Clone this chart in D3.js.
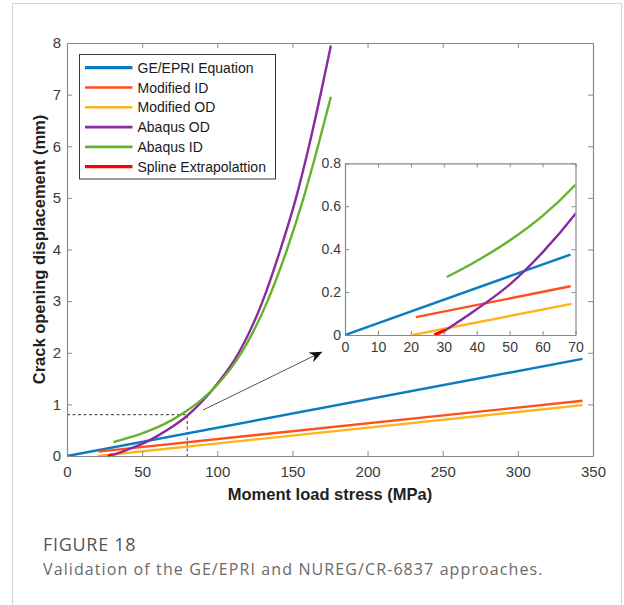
<!DOCTYPE html>
<html>
<head>
<meta charset="utf-8">
<script src="https://cdn.jsdelivr.net/npm/d3@7"></script>
<style>
  html, body { margin: 0; padding: 0; background: #fff; }
  svg { display: block; }
  .tick text { font-family: "Liberation Sans", Arial, sans-serif; fill: #3a3a3a; }
</style>
</head>
<body>
<svg id="chart" width="624" height="605"></svg>
<script>
// ---- data -------------------------------------------------------------
const seriesNames = ["GE/EPRI Equation", "Modified ID", "Modified OD", "Abaqus OD", "Abaqus ID", "Spline Extrapolattion"];
const seriesColors = ["#0c7cc2", "#ff4f1c", "#ffb41c", "#8b2aa0", "#66b22e", "#ff0000"];

// [moment load stress (MPa), crack opening displacement (mm)]
const geEpri     = [[0, 0], [343, 1.88]];
const modifiedId = [[21, 0.085], [343, 1.07]];
const modifiedOd = [[20.5, 0], [343, 0.985]];
const abaqusOd = [[30.6, 0.023], [40, 0.12], [50, 0.235], [60, 0.385], [70, 0.565],
                  [80, 0.78], [90, 1.06], [100, 1.40], [114.3, 2.0], [130.2, 3.0],
                  [142, 4.0], [152.4, 5.0], [161, 6.0], [168.7, 7.0], [175.6, 7.95]];
const abaqusId = [[30.9, 0.27], [40, 0.345], [50, 0.44], [60, 0.555], [70, 0.70],
                  [80, 0.88], [90, 1.10], [100, 1.38], [116.1, 2.0], [133.4, 3.0],
                  [146.4, 4.0], [157.4, 5.0], [167, 6.0], [175.6, 6.96]];
const splineExtrap = [[27.1, 0], [30.6, 0.023]];

// zoomed view of the low-load region
const insetGeEpri     = [[0, 0], [68.5, 0.375]];
const insetModifiedId = [[21.5, 0.083], [68.5, 0.227]];
const insetModifiedOd = [[20.5, 0], [68.8, 0.145]];

const xTicks = [0, 50, 100, 150, 200, 250, 300, 350];
const yTicks = [0, 1, 2, 3, 4, 5, 6, 7, 8];
const insetXTicks = [0, 10, 20, 30, 40, 50, 60, 70];
const insetYTicks = [0, 0.2, 0.4, 0.6, 0.8];

const guidePoint = [80, 0.8];                 // dashed reference lines
const arrowFrom = [90.5, 0.89], arrowTo = [170, 2.02];

const xLabel = "Moment load stress (MPa)";
const yLabel = "Crack opening displacement (mm)";
const figTitle = "FIGURE 18";
const figCaption = "Validation of the GE/EPRI and NUREG/CR-6837 approaches.";

// ---- layout -----------------------------------------------------------
const svg = d3.select("#chart");
const font = '"Liberation Sans", Arial, sans-serif';
const frameColor = "#8a8a8a";

// page border
svg.append("rect").attr("x", 12.5).attr("y", 3.5).attr("width", 609).attr("height", 620)
  .attr("fill", "none").attr("stroke", "#d6d6d6").attr("stroke-width", 1);

const x = d3.scaleLinear().domain([0, 350]).range([67, 593]);
const y = d3.scaleLinear().domain([0, 8]).range([456, 43]);

const xi = d3.scaleLinear().domain([0, 70]).range([345, 575.5]);
const yi = d3.scaleLinear().domain([0, 0.8]).range([335, 163.3]);

function drawAxes(g, sx, sy, xt, yt, tick, fontSize, xPad, yPad, yFmt) {
  const [x0, x1] = sx.range(), [y0, y1] = sy.range();
  const bottom = g.append("g").attr("transform", `translate(0,${y0})`)
    .call(d3.axisBottom(sx).tickValues(xt).tickSize(-tick).tickSizeOuter(0).tickPadding(xPad));
  const left = g.append("g").attr("transform", `translate(${x0},0)`)
    .call(d3.axisLeft(sy).tickValues(yt).tickSize(-tick).tickSizeOuter(0).tickPadding(yPad).tickFormat(yFmt));
  const top = g.append("g").attr("transform", `translate(0,${y1})`)
    .call(d3.axisTop(sx).tickValues(xt).tickSize(-tick).tickSizeOuter(0).tickFormat(""));
  const right = g.append("g").attr("transform", `translate(${x1},0)`)
    .call(d3.axisRight(sy).tickValues(yt).tickSize(-tick).tickSizeOuter(0).tickFormat(""));
  [bottom, left, top, right].forEach(a => {
    a.selectAll("path.domain").attr("stroke", frameColor).attr("stroke-width", 1.2);
    a.selectAll(".tick line").attr("stroke", frameColor).attr("stroke-width", 1);
    a.selectAll(".tick text").attr("font-size", fontSize).attr("font-family", font);
  });
}

const lineGen = (sx, sy) => d3.line().x(d => sx(d[0])).y(d => sy(d[1])).curve(d3.curveMonotoneX);

// ---- main axes --------------------------------------------------------
const main = svg.append("g");
main.append("rect").attr("x", 67).attr("y", 43).attr("width", 526).attr("height", 413).attr("fill", "#fff");

// dashed guide lines
main.append("path")
  .attr("d", `M${x(0)},${y(guidePoint[1])}H${x(guidePoint[0])}V${y(0)}`)
  .attr("fill", "none").attr("stroke", "#333").attr("stroke-width", 1)
  .attr("stroke-dasharray", "3,2.5");

const mainSeries = [
  [geEpri, 0], [modifiedId, 1], [modifiedOd, 2], [abaqusOd, 3], [abaqusId, 4], [splineExtrap, 5]
];
mainSeries.forEach(([data, i]) => {
  main.append("path").datum(data)
    .attr("d", lineGen(x, y))
    .attr("fill", "none").attr("stroke", seriesColors[i])
    .attr("stroke-width", i === 5 ? 3 : 2.4).attr("stroke-linecap", "butt");
});

drawAxes(main, x, y, xTicks, yTicks, 5, 15, 10, 6, d3.format("d"));

// axis titles
svg.append("text").attr("x", 330).attr("y", 500).attr("text-anchor", "middle")
  .attr("font-family", font).attr("font-weight", "bold").attr("font-size", 16.5)
  .attr("fill", "#222").text(xLabel);
svg.append("text").attr("transform", "translate(45,249.5) rotate(-90)").attr("text-anchor", "middle")
  .attr("font-family", font).attr("font-weight", "bold").attr("font-size", 16.5)
  .attr("fill", "#222").text(yLabel);

// ---- arrow pointing to the inset -------------------------------------
(function () {
  const ax0 = x(arrowFrom[0]), ay0 = y(arrowFrom[1]);
  const ax1 = x(arrowTo[0]), ay1 = y(arrowTo[1]);
  const ang = Math.atan2(ay1 - ay0, ax1 - ax0);
  const len = 13, half = 5.5, back = 9;
  const ux = Math.cos(ang), uy = Math.sin(ang), px = -uy, py = ux;
  main.append("line").attr("x1", ax0).attr("y1", ay0)
    .attr("x2", ax1 - ux * back).attr("y2", ay1 - uy * back)
    .attr("stroke", "#555").attr("stroke-width", 1);
  const pts = [
    [ax1, ay1],
    [ax1 - ux * len + px * half, ay1 - uy * len + py * half],
    [ax1 - ux * back, ay1 - uy * back],
    [ax1 - ux * len - px * half, ay1 - uy * len - py * half]
  ];
  main.append("path").attr("d", "M" + pts.map(p => p.join(",")).join("L") + "Z").attr("fill", "#111");
})();

// ---- legend -----------------------------------------------------------
const legend = svg.append("g");
legend.append("rect").attr("x", 79.5).attr("y", 54.5).attr("width", 196).attr("height", 124.5)
  .attr("fill", "#fff").attr("stroke", "#3c3c3c").attr("stroke-width", 1);
seriesNames.forEach((name, i) => {
  const cy = 67.7 + i * 19.8;
  legend.append("line").attr("x1", 85).attr("x2", 132.5).attr("y1", cy).attr("y2", cy)
    .attr("stroke", seriesColors[i]).attr("stroke-width", i === 0 || i === 5 ? 3.2 : 2.6);
  legend.append("text").attr("x", 137.5).attr("y", cy + 5).attr("font-family", font)
    .attr("font-size", 14).attr("fill", "#1a1a1a").text(name);
});

// ---- inset ------------------------------------------------------------
const inset = svg.append("g");
inset.append("rect").attr("x", 345).attr("y", 163.3).attr("width", 230.5).attr("height", 171.7).attr("fill", "#fff");
svg.append("clipPath").attr("id", "insetClip").append("rect")
  .attr("x", 345).attr("y", 163.3).attr("width", 230.5).attr("height", 171.7);
const insetLines = inset.append("g").attr("clip-path", "url(#insetClip)");
const insetSeries = [
  [insetGeEpri, 0], [insetModifiedId, 1], [insetModifiedOd, 2], [abaqusOd, 3], [abaqusId, 4], [splineExtrap, 5]
];
insetSeries.forEach(([data, i]) => {
  insetLines.append("path").datum(data)
    .attr("d", lineGen(xi, yi))
    .attr("fill", "none").attr("stroke", seriesColors[i])
    .attr("stroke-width", i === 5 ? 3.2 : 2.4);
});
drawAxes(inset, xi, yi, insetXTicks, insetYTicks, 4, 14, 7, 4,
  d => d === 0 ? "0" : d3.format(".1f")(d));

// ---- caption ----------------------------------------------------------
svg.append("text").attr("x", 43).attr("y", 551)
  .attr("font-family", '"Open Sans", sans-serif').attr("font-size", 18)
  .attr("letter-spacing", 0.7).attr("fill", "#555").text(figTitle);
svg.append("text").attr("x", 43).attr("y", 574.5)
  .attr("font-family", '"Open Sans", sans-serif').attr("font-size", 16)
  .attr("letter-spacing", 1.1).attr("fill", "#6a6a6a").text(figCaption);
</script>
</body>
</html>
